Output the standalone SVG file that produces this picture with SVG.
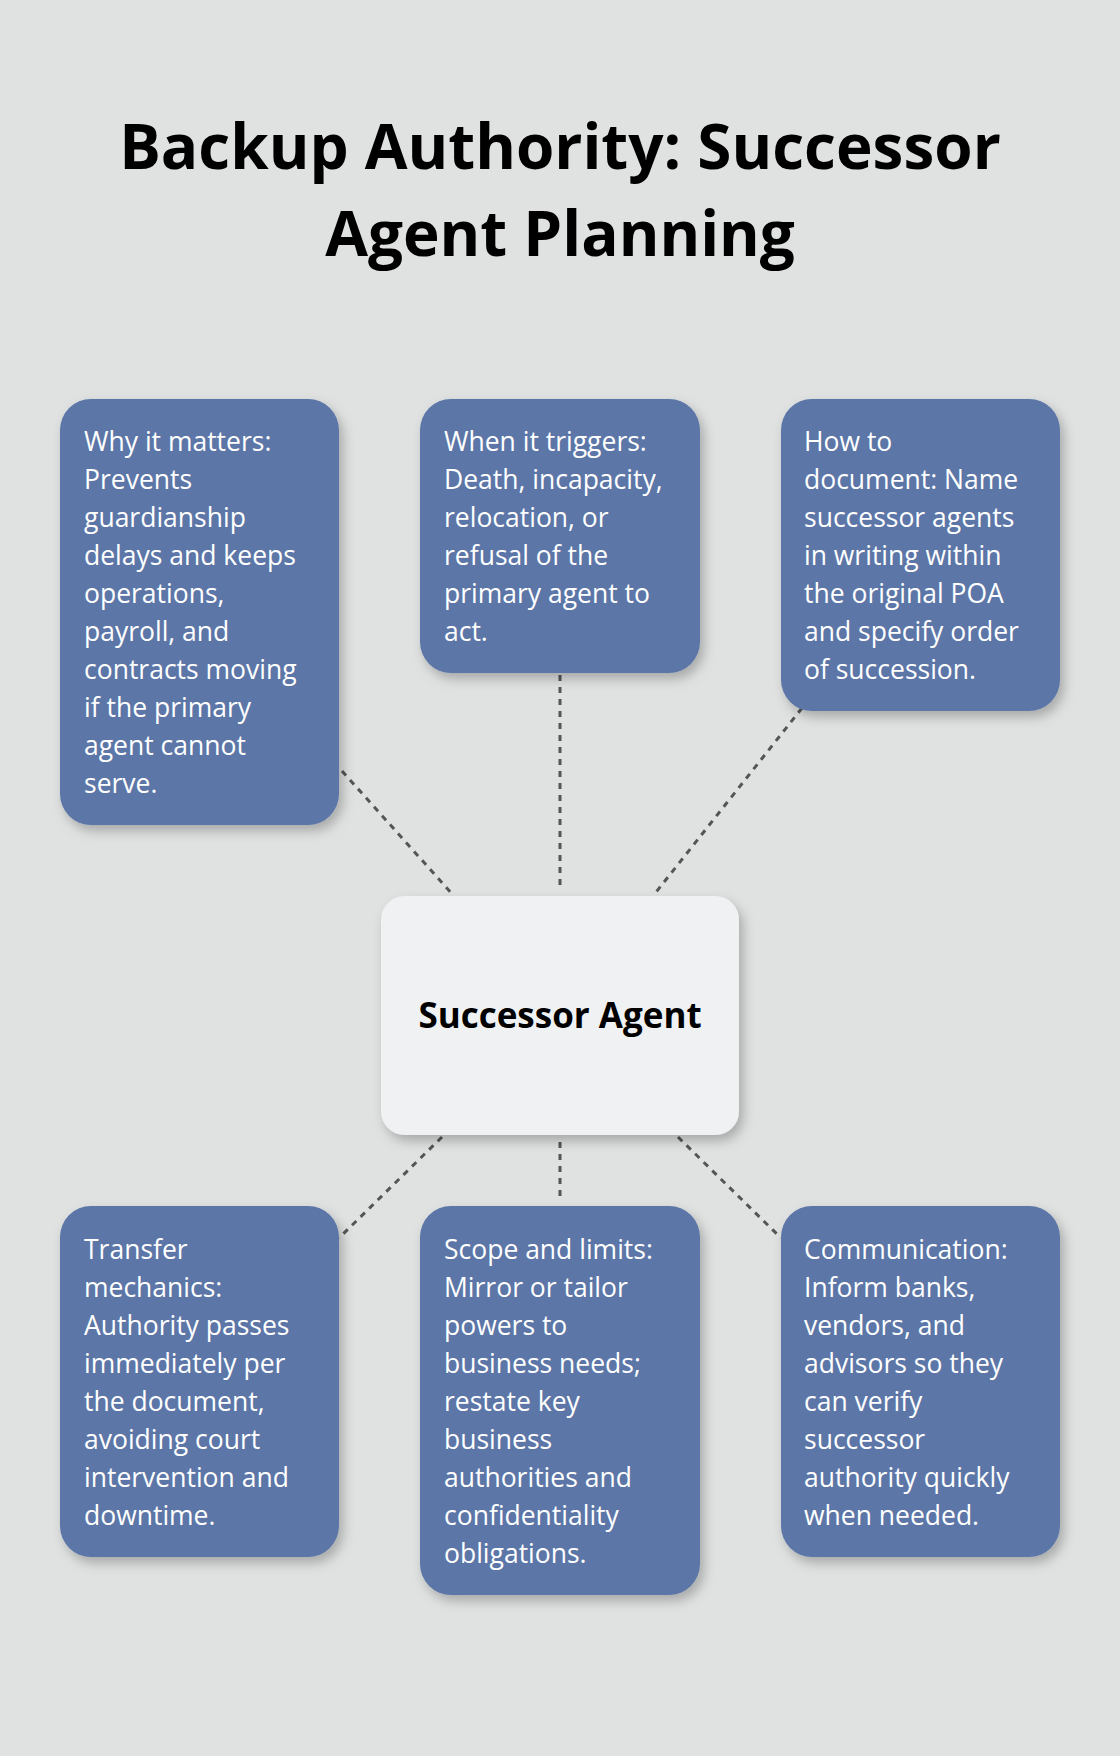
<svg xmlns="http://www.w3.org/2000/svg" width="1120" height="1756" viewBox="0 0 1120 1756">
<defs>
<filter id="sh" x="-20%" y="-20%" width="140%" height="140%"><feDropShadow dx="4" dy="6" stdDeviation="6" flood-color="#000" flood-opacity="0.25"/></filter>
<style>
.b{fill:#5b76a7;filter:url(#sh)}
.t{font-family:"Open Sans","Noto Sans",sans-serif;font-size:26.5px;fill:#fff}
.c{stroke:#555;stroke-width:3;stroke-dasharray:6 6;fill:none}
</style>
</defs>
<rect width="1120" height="1756" fill="#dfe2e1"/>
<g id="title" font-family="'Open Sans','Noto Sans',sans-serif" font-weight="bold" font-size="62" text-anchor="middle" fill="#000">
<text x="560" y="169">Backup Authority: Successor</text>
<text x="560" y="256">Agent Planning</text>
</g>
<g id="connectors">
<line class="c" x1="342" y1="771" x2="454" y2="896"/>
<line class="c" x1="560" y1="675" x2="560" y2="890"/>
<line class="c" x1="802" y1="708" x2="653" y2="896"/>
<line class="c" x1="442" y1="1137" x2="339" y2="1238"/>
<line class="c" x1="560" y1="1142" x2="560" y2="1202"/>
<line class="c" x1="678" y1="1137" x2="781" y2="1238"/>
</g>
<g id="center">
<rect x="381" y="896" width="358" height="239" rx="24" fill="#eff1f3" filter="url(#sh)"/>
<text x="560" y="1028" text-anchor="middle" font-family="'Open Sans','Noto Sans',sans-serif" font-weight="bold" font-size="35" fill="#000">Successor Agent</text>
</g>
<g id="n1"><rect class="b" x="60" y="399" width="279" height="426" rx="31"/>
<text class="t" x="84" y="451"><tspan x="84">Why it matters:</tspan><tspan x="84" dy="38">Prevents</tspan><tspan x="84" dy="38">guardianship</tspan><tspan x="84" dy="38">delays and keeps</tspan><tspan x="84" dy="38">operations,</tspan><tspan x="84" dy="38">payroll, and</tspan><tspan x="84" dy="38">contracts moving</tspan><tspan x="84" dy="38">if the primary</tspan><tspan x="84" dy="38">agent cannot</tspan><tspan x="84" dy="38">serve.</tspan></text></g>
<g id="n2"><rect class="b" x="420" y="399" width="280" height="274" rx="31"/>
<text class="t" x="444" y="451"><tspan x="444">When it triggers:</tspan><tspan x="444" dy="38">Death, incapacity,</tspan><tspan x="444" dy="38">relocation, or</tspan><tspan x="444" dy="38">refusal of the</tspan><tspan x="444" dy="38">primary agent to</tspan><tspan x="444" dy="38">act.</tspan></text></g>
<g id="n3"><rect class="b" x="781" y="399" width="279" height="312" rx="31"/>
<text class="t" x="804" y="451"><tspan x="804">How to</tspan><tspan x="804" dy="38">document: Name</tspan><tspan x="804" dy="38">successor agents</tspan><tspan x="804" dy="38">in writing within</tspan><tspan x="804" dy="38">the original POA</tspan><tspan x="804" dy="38">and specify order</tspan><tspan x="804" dy="38">of succession.</tspan></text></g>
<g id="n4"><rect class="b" x="60" y="1206" width="279" height="351" rx="31"/>
<text class="t" x="84" y="1259"><tspan x="84">Transfer</tspan><tspan x="84" dy="38">mechanics:</tspan><tspan x="84" dy="38">Authority passes</tspan><tspan x="84" dy="38">immediately per</tspan><tspan x="84" dy="38">the document,</tspan><tspan x="84" dy="38">avoiding court</tspan><tspan x="84" dy="38">intervention and</tspan><tspan x="84" dy="38">downtime.</tspan></text></g>
<g id="n5"><rect class="b" x="420" y="1206" width="280" height="389" rx="31"/>
<text class="t" x="444" y="1259"><tspan x="444">Scope and limits:</tspan><tspan x="444" dy="38">Mirror or tailor</tspan><tspan x="444" dy="38">powers to</tspan><tspan x="444" dy="38">business needs;</tspan><tspan x="444" dy="38">restate key</tspan><tspan x="444" dy="38">business</tspan><tspan x="444" dy="38">authorities and</tspan><tspan x="444" dy="38">confidentiality</tspan><tspan x="444" dy="38">obligations.</tspan></text></g>
<g id="n6"><rect class="b" x="781" y="1206" width="279" height="351" rx="31"/>
<text class="t" x="804" y="1259"><tspan x="804">Communication:</tspan><tspan x="804" dy="38">Inform banks,</tspan><tspan x="804" dy="38">vendors, and</tspan><tspan x="804" dy="38">advisors so they</tspan><tspan x="804" dy="38">can verify</tspan><tspan x="804" dy="38">successor</tspan><tspan x="804" dy="38">authority quickly</tspan><tspan x="804" dy="38">when needed.</tspan></text></g>
</svg>
